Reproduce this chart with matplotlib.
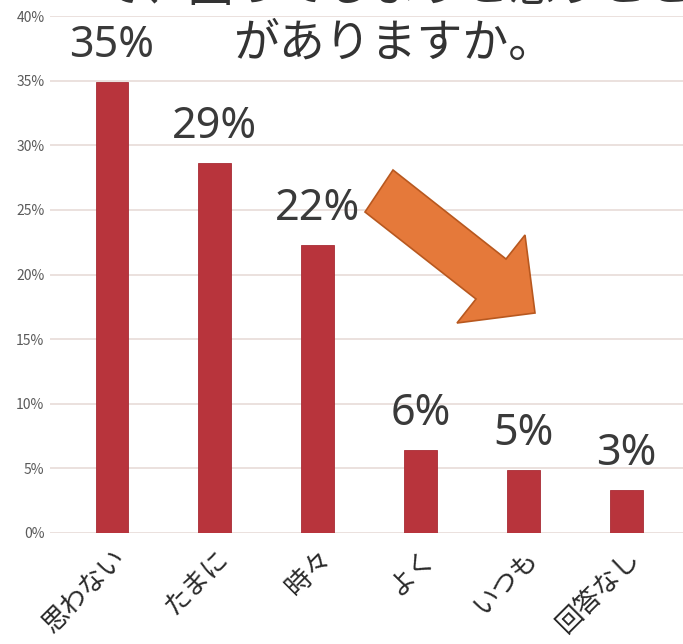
import matplotlib
matplotlib.use("Agg")
import matplotlib.pyplot as plt
from matplotlib.patches import Polygon
from matplotlib.ticker import FuncFormatter

categories = ["思わない", "たまに", "時々", "よく", "いつも", "回答なし"]
values = [34.9, 28.6, 22.3, 6.4, 4.9, 3.3]
labels = ["35%", "29%", "22%", "6%", "5%", "3%"]
yticks = [0, 5, 10, 15, 20, 25, 30, 35, 40]
title_lines = ["で、困ってしまうと思うこと", "がありますか。"]

plt.rcParams['font.family'] = ['Noto Sans CJK JP', 'DejaVu Sans']

W, H = 683, 644
fig = plt.figure(figsize=(W / 100, H / 100), dpi=100)
fig.patch.set_facecolor("white")
ax = fig.add_axes([50 / W, (H - 533) / H, 633 / W, 517 / H])

x = list(range(len(categories)))
ax.bar(x, values, width=0.32, color="#b8343c", edgecolor="#a82c34", linewidth=0.6, zorder=3)

ax.set_ylim(0, 40)
ax.set_xlim(-0.603, 5.55)
ax.set_yticks(yticks)
ax.yaxis.set_major_formatter(FuncFormatter(lambda v, p: f"{int(v)}%"))
ax.grid(axis="y", color="#e8dbd8", linewidth=1.2, zorder=0)
ax.set_axisbelow(True)
for s in ax.spines.values():
    s.set_visible(False)
ax.tick_params(axis="y", length=0, pad=4, labelsize=10, labelcolor="#5a5a5a")
ax.tick_params(axis="x", length=0, pad=8)
ax.set_xticks(x)
ax.set_xticklabels(categories, rotation=45, ha="right", va="top",
                   rotation_mode="anchor", fontsize=19, color="#2a2a2a")

for xi, v, lab in zip(x, values, labels):
    ax.annotate(lab, (xi, v), xytext=(0, 10), textcoords="offset points",
                ha="center", va="bottom", fontsize=31, color="#3a3a3a",
                family=["Noto Sans", "DejaVu Sans"])

# title lines (partially cut at top in the reference)
fig.text(395 / W, 1 - (-12) / H, title_lines[0], ha="center", va="center",
         fontsize=33, color="#333333")
fig.text(394 / W, 1 - 44 / H, title_lines[1], ha="center", va="center",
         fontsize=33, color="#333333")

# decorative down-right arrow
pts_px = [(365, 212), (393, 170), (506, 259), (525, 235), (535, 313), (457, 323), (476, 299)]
pts = [(px / W, 1 - py / H) for px, py in pts_px]
fig.patches.append(Polygon(pts, closed=True, transform=fig.transFigure,
                           facecolor="#e5793a", edgecolor="#b8581f", linewidth=1.2, zorder=5))

fig.savefig("out.png", dpi=100, facecolor="white")
